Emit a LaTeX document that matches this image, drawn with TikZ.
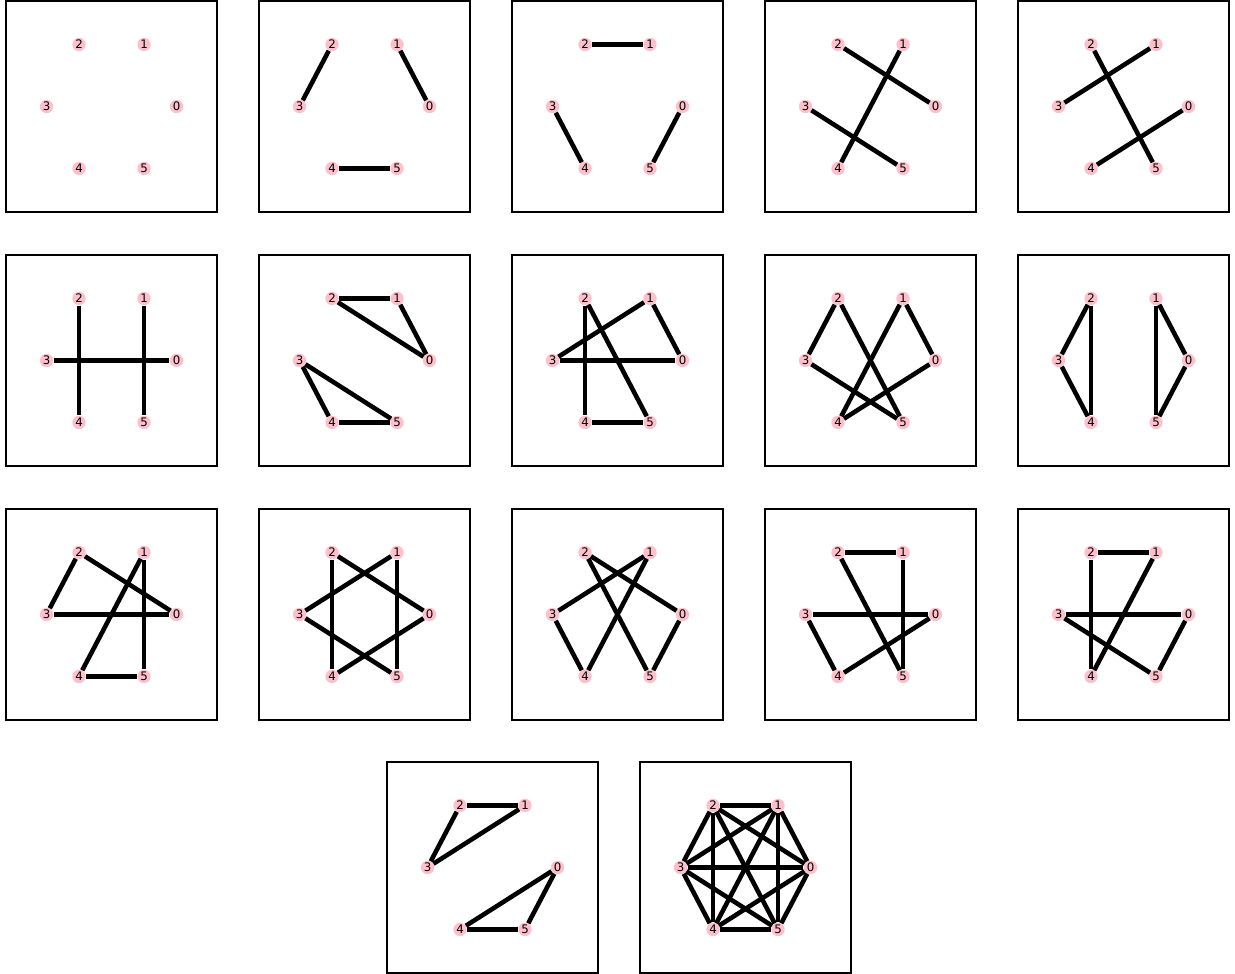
\documentclass[tikz,border=0pt]{standalone}
\usepackage{fontspec}
\setmainfont{DejaVu Sans}
\definecolor{nodepink}{HTML}{FFC0CB}

\begin{document}
\begin{tikzpicture}[
    x=0.02cm, y=-0.02cm,
    panel/.style={
        draw,
        line width=0.6pt
    },
    vertex/.style={
        circle,
        fill=nodepink,
        inner sep=0pt,
        minimum size=7.6pt,
        font=\fontsize{6.7}{7}\selectfont
    },
    link/.style={
        line width=2.6pt,
        black
    }
]
    \useasboundingbox (0,0) rectangle (1235,974);

    % Frames and vertices of every graph
    \foreach \g/\px/\py in {1/6/1, 2/259/1, 3/512/1, 4/765/1, 5/1018/1,
                            6/6/255, 7/259/255, 8/512/255, 9/765/255, 10/1018/255,
                            11/6/509, 12/259/509, 13/512/509, 14/765/509, 15/1018/509,
                            16/387/762, 17/640/762} {
        \draw[panel] (\px,\py) rectangle ++(211,211);
        \foreach \k/\dx/\dy in {0/65/0, 1/32.5/-62, 2/-32.5/-62, 3/-65/0, 4/-32.5/62, 5/32.5/62}
            \node[vertex] (g\g-\k) at (\px+105.5+\dx, \py+105.5+\dy) {\k};
    }

    % Edges
    \foreach \g/\edges in {2/{2/3,1/0,4/5},
                           3/{2/1,3/4,0/5},
                           4/{2/0,1/4,3/5},
                           5/{2/5,1/3,0/4},
                           6/{2/4,1/5,3/0},
                           7/{2/1,2/0,1/0,3/4,3/5,4/5},
                           8/{2/4,2/5,1/3,1/0,3/0,4/5},
                           9/{2/3,2/5,1/0,1/4,3/5,4/0},
                           10/{2/3,2/4,3/4,1/0,1/5,0/5},
                           11/{2/3,2/0,3/0,1/4,1/5,4/5},
                           12/{2/4,2/0,1/3,1/5,3/5,4/0},
                           13/{2/0,2/5,1/3,1/4,3/4,0/5},
                           14/{2/1,2/5,1/5,3/0,3/4,0/4},
                           15/{2/1,2/4,1/4,3/0,3/5,0/5},
                           16/{2/1,2/3,1/3,0/4,0/5,4/5},
                           17/{0/1,0/2,0/3,0/4,0/5,1/2,1/3,1/4,1/5,2/3,2/4,2/5,3/4,3/5,4/5}} {
        \foreach \a/\b in \edges
            \draw[link] (g\g-\a) -- (g\g-\b);
    }

\end{tikzpicture}
\end{document}
